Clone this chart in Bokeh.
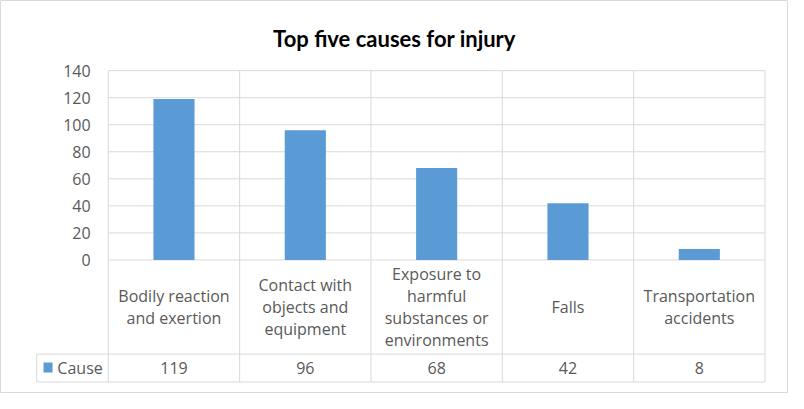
from bokeh.plotting import figure
from bokeh.models import Range1d
from bokeh.core.properties import value
from bokeh.embed import file_html
from bokeh.resources import INLINE

# ---- data ----
title_text = "Top five causes for injury"
categories = ["Bodily reaction\nand exertion",
              "Contact with\nobjects and\nequipment",
              "Exposure to\nharmful\nsubstances or\nenvironments",
              "Falls",
              "Transportation\naccidents"]
series_name = "Cause"
counts = [119, 96, 68, 42, 8]
y_ticks = [0, 20, 40, 60, 80, 100, 120, 140]

# ---- layout: reference-pixel positions scaled to the figure ----
W, H = 788, 393
SX, SY = W / 804, H / 409

def rx(v):
    return v * SX

def ry(v):
    return v * SY

X0 = rx(110)                 # left edge of plot area
CW = (rx(780) - rx(110)) / 5  # category width
Y0 = ry(270)                 # value 0
TOP = ry(73)                 # value 140
PPU = (Y0 - TOP) / 140
ROW1 = ry(368)
ROW2 = ry(397)
LEFT_CELL = rx(37)

GRID = "#D9D9D9"
TXT = "#595959"
BAR = "#5B9BD5"
FONT = value("Open Sans")
FS = "16px"

def dx(px):
    return (px - X0) / CW

def dy(py):
    return (Y0 - py) / PPU

n = len(categories)
p = figure(width=W, height=H, output_backend="svg", toolbar_location=None,
           x_range=Range1d(dx(0), dx(W)), y_range=Range1d(dy(H), dy(0)),
           x_axis_location=None, y_axis_location=None,
           min_border=0, border_fill_color="white")
p.grid.visible = False
p.outline_line_color = GRID

# horizontal gridlines
p.segment(x0=[0] * len(y_ticks), x1=[n] * len(y_ticks), y0=y_ticks, y1=y_ticks,
          line_color=GRID, line_width=1)
# vertical category boundaries through plot + table
xs = list(range(n + 1))
p.segment(x0=xs, x1=xs, y0=[dy(TOP)] * len(xs), y1=[dy(ROW2)] * len(xs),
          line_color=GRID, line_width=1)
# table horizontal lines
p.segment(x0=[dx(LEFT_CELL)] * 2, x1=[n] * 2,
          y0=[dy(ROW1), dy(ROW2)], y1=[dy(ROW1), dy(ROW2)],
          line_color=GRID, line_width=1)
p.segment(x0=[dx(LEFT_CELL)], x1=[dx(LEFT_CELL)], y0=[dy(ROW1)], y1=[dy(ROW2)],
          line_color=GRID, line_width=1)

# bars
centers = [i + 0.5 for i in range(n)]
p.vbar(x=centers, top=counts, bottom=0, width=0.313, fill_color=BAR, line_color=None)

# y tick labels
p.text(x=[dx(rx(92))] * len(y_ticks), y=y_ticks, text=[str(t) for t in y_ticks],
       text_align="right", text_baseline="middle", text_color=TXT,
       text_font=FONT, text_font_size=FS)

# category labels
p.text(x=centers, y=[dy(ry(319))] * n, text=categories,
       text_align="center", text_baseline="middle", text_color=TXT,
       text_font=FONT, text_font_size=FS, text_line_height=1.0)

# values row
p.text(x=centers, y=[dy(ry(382))] * n, text=[str(c) for c in counts],
       text_align="center", text_baseline="middle", text_color=TXT,
       text_font=FONT, text_font_size=FS)

# series key + name
p.rect(x=[dx(rx(48.5))], y=[dy(ry(382))], width=9, height=10, width_units="screen",
       height_units="screen", fill_color=BAR, line_color=None)
p.text(x=[dx(rx(58))], y=[dy(ry(382))], text=[series_name],
       text_align="left", text_baseline="middle", text_color=TXT,
       text_font=FONT, text_font_size=FS)

# title
p.text(x=[dx(rx(402))], y=[dy(ry(39.5))], text=[title_text],
       text_align="center", text_baseline="alphabetic", text_color="#000000",
       text_font=value("Lato"), text_font_style="bold", text_font_size="22px")

open("out.html", "w").write(file_html(p, INLINE))
